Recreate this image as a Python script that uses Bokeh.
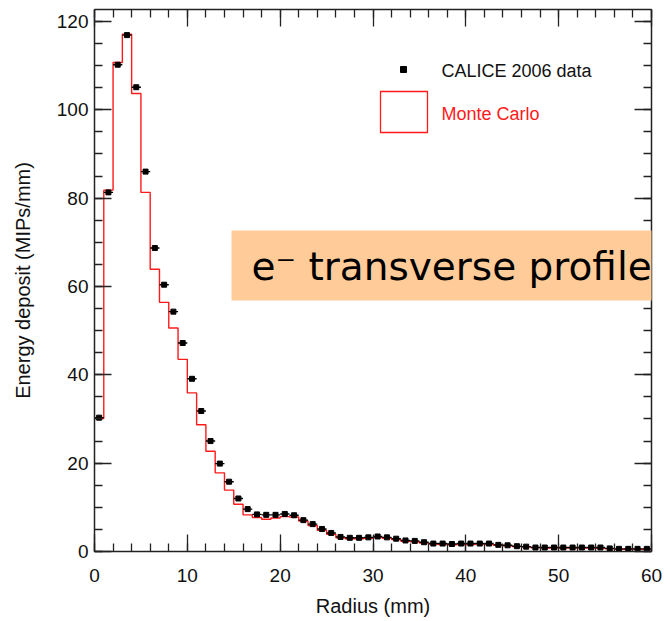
from bokeh.plotting import figure
from bokeh.models import FixedTicker, LinearAxis, Label, Range1d, ColumnDataSource, BoxAnnotation
from bokeh.embed import file_html
from bokeh.resources import INLINE

# ---------------- data ----------------
bin_width = 1.0
n_bins = 60
data_vals = [30.3, 81.3, 110.2, 116.9, 105.1, 86.0, 68.7, 60.4, 54.3, 47.2,
             39.1, 31.8, 25.0, 19.9, 15.8, 12.0, 9.6, 8.4, 8.3, 8.3,
             8.5, 8.2, 7.1, 6.2, 5.1, 4.2, 3.3, 3.1, 3.1, 3.2,
             3.4, 3.2, 2.9, 2.5, 2.4, 2.1, 1.8, 1.8, 1.7, 1.8,
             1.8, 1.8, 1.8, 1.5, 1.4, 1.2, 1.1, 0.9, 0.9, 0.9,
             0.9, 0.9, 0.9, 0.9, 0.9, 0.7, 0.6, 0.6, 0.6, 0.6]
mc_vals = [30.1, 81.8, 110.7, 117.1, 103.7, 81.3, 63.9, 56.4, 50.6, 43.5,
           35.9, 28.7, 22.7, 17.8, 13.9, 10.7, 8.3, 7.7, 7.3, 7.6,
           7.9, 7.8, 6.9, 5.9, 4.8, 3.9, 3.1, 2.9, 2.9, 3.0,
           3.2, 3.0, 2.7, 2.3, 2.2, 1.9, 1.7, 1.6, 1.5, 1.6,
           1.6, 1.7, 1.6, 1.4, 1.3, 1.1, 1.0, 0.9, 0.8, 0.8,
           0.8, 0.8, 0.8, 0.8, 0.7, 0.6, 0.5, 0.5, 0.5, 0.5]
x_major = [0, 10, 20, 30, 40, 50, 60]
x_minor = list(range(0, 61, 2))
y_major = [0, 20, 40, 60, 80, 100, 120]
y_minor = list(range(0, 121, 5))
legend_data = "CALICE 2006 data"
legend_mc = "Monte Carlo"
banner = "e\u207b transverse profile"

# ---------------- layout ----------------
W, H = 670, 621
BL, BR, BT, BB = 94, 19, 9, 70
XMAX, YMAX = 60, 122.7
FW, FH = W - BL - BR, H - BT - BB

def dx(page_x):
    return (page_x - BL) / FW * XMAX

def dy(page_y):
    return (BT + FH - page_y) / FH * YMAX

edges = [i * bin_width for i in range(n_bins + 1)]
centers = [e + bin_width / 2 for e in edges[:-1]]

p = figure(width=W, height=H, x_range=Range1d(0, XMAX), y_range=Range1d(0, YMAX),
           output_backend="svg", toolbar_location=None,
           min_border_left=BL, min_border_right=BR, min_border_top=BT, min_border_bottom=BB)
p.grid.visible = False
p.outline_line_color = None
p.background_fill_color = "white"
p.border_fill_color = "white"

FONT = "Liberation Sans"
AX_COLOR = "#222222"

def style_axis(ax, labels=True):
    ax.axis_line_color = AX_COLOR
    ax.axis_line_width = 1.5
    ax.major_tick_line_color = AX_COLOR
    ax.minor_tick_line_color = AX_COLOR
    ax.major_tick_line_width = 1.3
    ax.minor_tick_line_width = 1.3
    ax.major_tick_in = 17
    ax.major_tick_out = 0
    ax.minor_tick_in = 8
    ax.minor_tick_out = 0
    ax.major_label_text_font = FONT
    ax.major_label_text_color = "#111111"
    ax.axis_label_text_font = FONT
    ax.axis_label_text_font_style = "normal"
    ax.axis_label_text_font_size = "20px"
    ax.axis_label_text_color = "#111111"
    if labels:
        ax.major_label_text_font_size = "19px"
    else:
        ax.major_label_text_font_size = "0px"
        ax.major_label_standoff = 0

xt = FixedTicker(ticks=x_major, minor_ticks=x_minor)
yt = FixedTicker(ticks=y_major, minor_ticks=y_minor)

p.xaxis.ticker = xt
p.yaxis.ticker = yt
style_axis(p.xaxis[0])
style_axis(p.yaxis[0])
p.xaxis.axis_label = "Radius (mm)"
p.yaxis.axis_label = "Energy deposit (MIPs/mm)"
p.xaxis.major_label_standoff = 17
p.yaxis.major_label_standoff = 6
p.xaxis.axis_label_standoff = 10
p.yaxis.axis_label_standoff = 20

top = LinearAxis(ticker=FixedTicker(ticks=x_major, minor_ticks=x_minor))
right = LinearAxis(ticker=FixedTicker(ticks=y_major, minor_ticks=y_minor))
style_axis(top, labels=False)
style_axis(right, labels=False)
p.add_layout(top, "above")
p.add_layout(right, "right")

# Monte Carlo histogram
p.step(x=edges, y=mc_vals + [mc_vals[-1]], mode="after", line_color="#ff1a1a", line_width=1.4)

# data points with horizontal bin bars
src = ColumnDataSource(dict(x=centers, y=data_vals,
                            x0=[c - bin_width / 2 for c in centers],
                            x1=[c + bin_width / 2 for c in centers]))
p.segment(x0="x0", x1="x1", y0="y", y1="y", source=src, line_color="black", line_width=1.4)
p.scatter(x="x", y="y", source=src, marker="square", size=5, fill_color="black", line_color="black")

# legend (drawn by hand)
p.scatter(x=[dx(403)], y=[dy(69)], marker="square", size=6, fill_color="black", line_color="black")
p.quad(left=[dx(380)], right=[dx(427)], top=[dy(91)], bottom=[dy(132)],
       fill_color=None, line_color="#ff1a1a", line_width=1.3)
p.add_layout(Label(x=dx(441), y=dy(70), text=legend_data, text_font=FONT, text_font_size="18px",
                   text_color="#111111", text_baseline="middle", text_align="left"))
p.add_layout(Label(x=dx(441), y=dy(113), text=legend_mc, text_font=FONT, text_font_size="18px",
                   text_color="#ff1a1a", text_baseline="middle", text_align="left"))

# banner (box in canvas pixels so that it may run past the frame, as in the original slide)
p.add_layout(BoxAnnotation(left=231, right=W, top=230, bottom=300,
                           left_units="canvas", right_units="canvas",
                           top_units="canvas", bottom_units="canvas",
                           fill_color="#FFCC99", fill_alpha=1.0, line_color=None, level="overlay"))
p.add_layout(Label(x=dx(251), y=dy(266), text=banner, text_font="DejaVu Sans", text_font_size="39px",
                   text_color="black", text_baseline="middle", text_align="left", level="overlay"))

open("out.html", "w").write(file_html(p, INLINE))
